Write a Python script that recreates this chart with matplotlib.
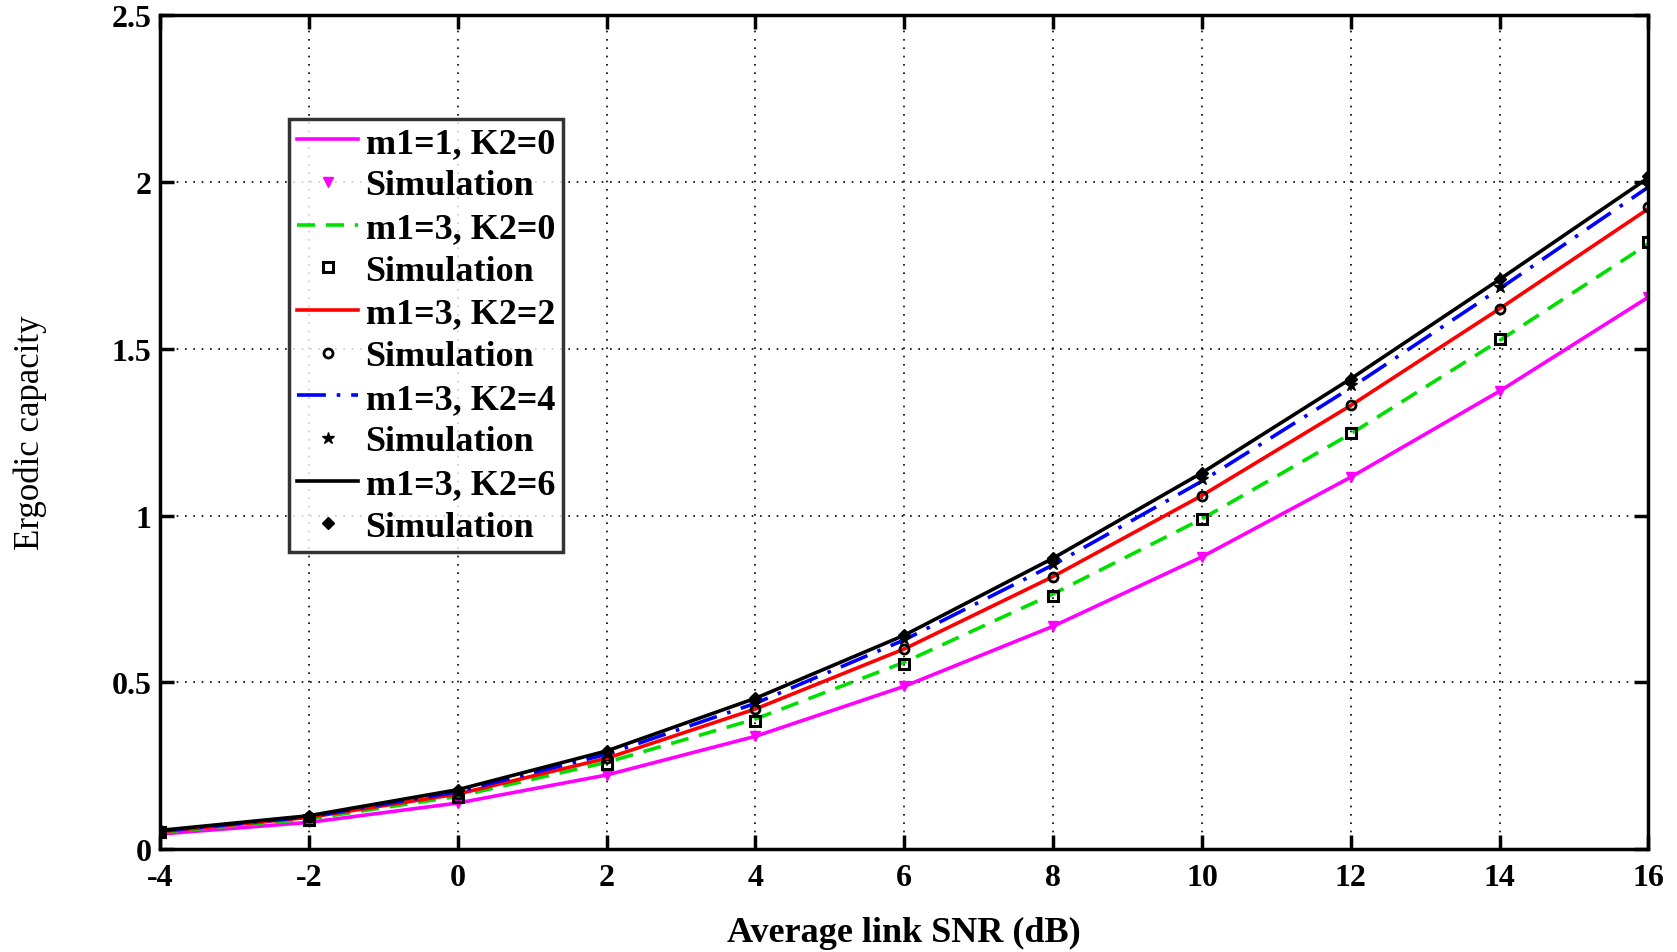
import matplotlib
matplotlib.use("Agg")
import matplotlib.pyplot as plt

snr = [-4, -2, 0, 2, 4, 6, 8, 10, 12, 14, 16]

cap_m1_k0 = [0.045, 0.08, 0.138, 0.222, 0.338, 0.488, 0.668, 0.876, 1.115, 1.373, 1.655]
sim_m1_k0 = [0.045, 0.08, 0.138, 0.222, 0.338, 0.488, 0.668, 0.876, 1.115, 1.373, 1.655]

cap_m3_k0 = [0.05, 0.09, 0.158, 0.26, 0.39, 0.56, 0.765, 0.99, 1.245, 1.525, 1.815]
sim_m3_k0 = [0.05, 0.088, 0.155, 0.255, 0.385, 0.555, 0.76, 0.99, 1.247, 1.529, 1.82]

cap_m3_k2 = [0.052, 0.095, 0.165, 0.272, 0.42, 0.6, 0.817, 1.06, 1.33, 1.62, 1.92]
sim_m3_k2 = [0.052, 0.095, 0.165, 0.272, 0.42, 0.6, 0.817, 1.06, 1.33, 1.62, 1.925]

cap_m3_k4 = [0.054, 0.097, 0.172, 0.284, 0.437, 0.627, 0.852, 1.103, 1.383, 1.68, 1.985]
sim_m3_k4 = [0.054, 0.097, 0.172, 0.284, 0.437, 0.63, 0.855, 1.11, 1.39, 1.685, 1.99]

cap_m3_k6 = [0.056, 0.1, 0.178, 0.294, 0.452, 0.641, 0.872, 1.128, 1.41, 1.708, 2.013]
sim_m3_k6 = [0.056, 0.1, 0.178, 0.294, 0.452, 0.641, 0.872, 1.128, 1.41, 1.708, 2.018]

labels = ["m1=1, K2=0", "Simulation", "m1=3, K2=0", "Simulation",
          "m1=3, K2=2", "Simulation", "m1=3, K2=4", "Simulation",
          "m1=3, K2=6", "Simulation"]

x_ticks = [-4, -2, 0, 2, 4, 6, 8, 10, 12, 14, 16]
y_ticks = [0, 0.5, 1, 1.5, 2, 2.5]
y_ticklabels = ["0", "0.5", "1", "1.5", "2", "2.5"]

plt.rcParams['font.family'] = ['Liberation Serif', 'DejaVu Serif']

fig = plt.figure(figsize=(16.77, 9.53), dpi=100)
ax = fig.add_axes([0.0954, 0.108, 0.8876, 0.875])

lw = 2.6
ax.plot(snr, cap_m1_k0, '-', color='#ff00ff', lw=lw, label=labels[0])
ax.plot(snr, sim_m1_k0, 'v', color='#ff00ff', ms=7, ls='none', label=labels[1])
ax.plot(snr, cap_m3_k0, '--', color='#00e000', lw=lw, dashes=(5, 3), label=labels[2])
ax.plot(snr, sim_m3_k0, 's', mfc='none', mec='black', mew=2.2, ms=7.5, ls='none', label=labels[3])
ax.plot(snr, cap_m3_k2, '-', color='red', lw=lw, label=labels[4])
ax.plot(snr, sim_m3_k2, 'o', mfc='none', mec='black', mew=2, ms=6.5, ls='none', label=labels[5])
ax.plot(snr, cap_m3_k4, '-.', color='#0000ff', lw=lw, dashes=(8, 3, 1, 3), label=labels[6])
ax.plot(snr, sim_m3_k4, '*', color='black', ms=9, ls='none', label=labels[7])
ax.plot(snr, cap_m3_k6, '-', color='black', lw=lw, label=labels[8])
ax.plot(snr, sim_m3_k6, 'D', color='black', ms=6.5, ls='none', label=labels[9])

ax.set_xlim(-4, 16)
ax.set_ylim(0, 2.5)
ax.set_xticks(x_ticks)
ax.set_xticklabels([str(v) for v in x_ticks])
ax.set_yticks(y_ticks)
ax.set_yticklabels(y_ticklabels)
ax.grid(True, color='black', linestyle=(0, (1, 4)), linewidth=1.2)
ax.tick_params(direction='in', length=10, width=2.5, top=True, right=True,
               labelsize=23)
ax.tick_params(axis='x', pad=10)
ax.tick_params(axis='y', pad=6)
for lab in ax.get_xticklabels() + ax.get_yticklabels():
    lab.set_fontweight('bold')
for sp in ax.spines.values():
    sp.set_linewidth(2.5)

ax.set_xlabel("Average link SNR (dB)", fontsize=26, fontweight='bold')
ax.xaxis.set_label_coords(0.5, -0.08)
ax.set_ylabel("Ergodic capacity", fontsize=25)
ax.yaxis.set_label_coords(-0.076, 0.5)

leg = ax.legend(loc='upper left', bbox_to_anchor=(0.0867, 0.876),
                prop={'family': 'Liberation Serif', 'weight': 'bold', 'size': 26},
                frameon=True, fancybox=False, edgecolor='black',
                handlelength=1.7, labelspacing=0.26, borderpad=0.22,
                handletextpad=0.2, borderaxespad=0)
leg.get_frame().set_linewidth(2.5)

fig.savefig("out.png", dpi=100)
